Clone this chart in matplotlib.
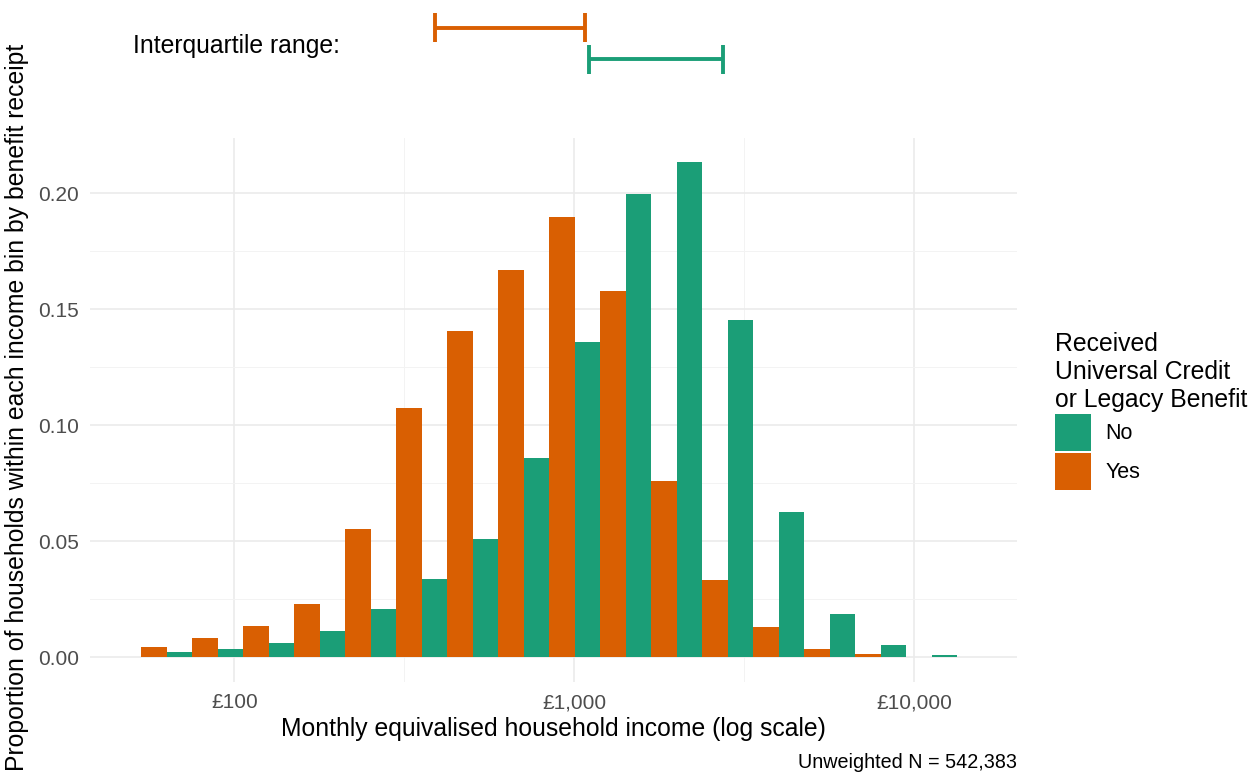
import numpy as np
import matplotlib
matplotlib.use("Agg")
import matplotlib.pyplot as plt
from matplotlib.patches import Patch
from matplotlib.ticker import FixedLocator, NullFormatter

plt.rcParams['font.family'] = ['Liberation Sans', 'DejaVu Sans']

# income bins (bin centres, £ per month, equal width on log10 scale)
bin_centres = [53.2, 75.1, 106.1, 149.9, 211.7, 299.1, 422.5, 596.8, 843.0,
               1190.8, 1682, 2376, 3356, 4741, 6697, 9460, 13362]
bin_width_log = 0.15

# proportion of households in each bin, by benefit receipt
prop_no = [0.0, 0.0023, 0.0036, 0.0063, 0.0112, 0.0207, 0.0339, 0.0510, 0.0860,
           0.1359, 0.1998, 0.2135, 0.1452, 0.0625, 0.0185, 0.0052, 0.0009]
prop_yes = [0.0043, 0.0083, 0.0136, 0.0230, 0.0553, 0.1075, 0.1407, 0.1670, 0.1898,
            0.1579, 0.0760, 0.0333, 0.0132, 0.0036, 0.0013, 0.0, 0.0]

# interquartile ranges of income
iqr_yes = (390, 1075)
iqr_no = (1105, 2743)

groups = ['No', 'Yes']
colours = {'No': '#1B9E77', 'Yes': '#D95F02'}

W, H = 1256, 776
fig = plt.figure(figsize=(W / 100, H / 100), dpi=100)
ax = fig.add_axes([90 / W, 1 - 682 / H, (1016.7 - 90) / W, (682 - 138.3) / H])
top = fig.add_axes([90 / W, 1 - 90 / H, (1016.7 - 90) / W, 90 / H], sharex=ax)

# dodged bars: "No" on the left half of each bin, "Yes" on the right half
centres = np.array(bin_centres, dtype=float)
half = 10 ** (bin_width_log / 2)
left_no = centres / half
left_yes = centres
ax.bar(left_no, prop_no, width=centres - left_no, align='edge',
       color=colours['No'], linewidth=0, zorder=2)
ax.bar(left_yes, prop_yes, width=centres * half - centres, align='edge',
       color=colours['Yes'], linewidth=0, zorder=2)

ax.set_xscale('log')
ax.set_xlim(10 ** 1.5756, 10 ** 4.3012)
ax.set_ylim(-0.01065, 0.2237)

ax.set_xticks([100, 1000, 10000], labels=['£100', '£1,000', '£10,000'])
ax.xaxis.set_minor_locator(FixedLocator([10 ** 2.5, 10 ** 3.5]))
ax.xaxis.set_minor_formatter(NullFormatter())
ax.set_yticks([0, 0.05, 0.10, 0.15, 0.20],
              labels=['0.00', '0.05', '0.10', '0.15', '0.20'])
ax.set_yticks([0.025, 0.075, 0.125, 0.175], minor=True)

ax.grid(which='major', color='#EBEBEB', linewidth=1.2)
ax.grid(which='minor', color='#F3F3F3', linewidth=0.7)
ax.set_axisbelow(True)
for s in ax.spines.values():
    s.set_visible(False)
ax.tick_params(which='both', length=0, labelsize=15, labelcolor='#4D4D4D', pad=8)

ax.set_xlabel('Monthly equivalised household income (log scale)', fontsize=17.8, va='center')
ax.xaxis.set_label_coords(0.5, (682 - 729) / (682 - 138.3))
ax.set_ylabel('Proportion of households within each income bin by benefit receipt',
              fontsize=17.8, va='center')
ax.yaxis.set_label_coords((17 - 90) / (1016.7 - 90), (682 - 407) / (682 - 138.3))

handles = [Patch(facecolor=colours[g], edgecolor='none') for g in groups]
leg = ax.legend(handles, groups, title='Received\nUniversal Credit\nor Legacy Benefit',
                loc='center left', bbox_to_anchor=(1055 / W, 1 - 411 / H),
                bbox_transform=fig.transFigure, frameon=False, fontsize=15.5,
                title_fontsize=17.8, alignment='left', handlelength=1.68,
                handleheight=2.25, labelspacing=0.1, handletextpad=0.65,
                borderpad=0, borderaxespad=0)
leg.get_title().set_linespacing(1.2)

# interquartile range strip above the histogram
top.set_ylim(90, 0)
top.axis('off')
cap = 14.7
for (lo, hi), y, g in [(iqr_yes, 27.7, 'Yes'), (iqr_no, 59.3, 'No')]:
    top.hlines(y, lo, hi, color=colours[g], linewidth=2.8)
    top.vlines([lo, hi], y - cap, y + cap, color=colours[g], linewidth=2.8)

fig.text(133 / W, 1 - 46 / H, 'Interquartile range:', ha='left', va='center', fontsize=17.8)
fig.text(1017 / W, 1 - 762 / H, 'Unweighted N = 542,383', ha='right', va='center',
         fontsize=14.2)

fig.savefig('out.png', dpi=100)
